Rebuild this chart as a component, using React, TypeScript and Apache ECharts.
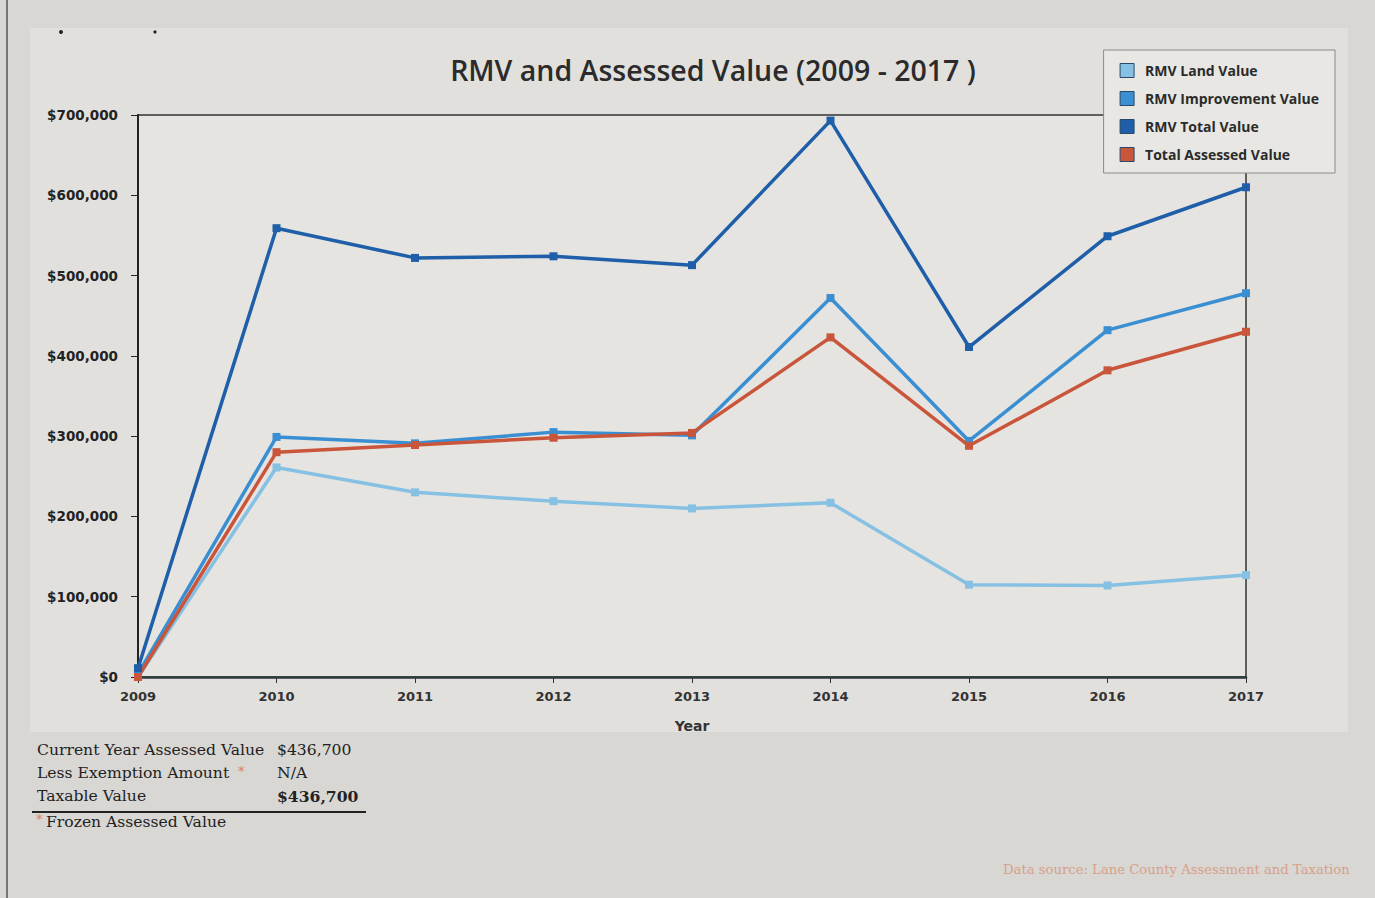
import React, { useEffect, useRef } from "react";
import * as echarts from "echarts";

const years = ["2009", "2010", "2011", "2012", "2013", "2014", "2015", "2016", "2017"];
const landValue = [0, 261000, 230000, 219000, 210000, 217000, 115000, 114000, 127000];
const improvementValue = [4000, 299000, 291000, 305000, 301000, 472000, 294000, 432000, 478000];
const totalValue = [11000, 559000, 522000, 524000, 513000, 693000, 411000, 549000, 610000];
const assessedValue = [0, 280000, 289000, 298000, 304000, 423000, 288000, 382000, 430000];
const seriesNames = ["RMV Land Value", "RMV Improvement Value", "RMV Total Value", "Total Assessed Value"];
const seriesColors = ["#86c1e4", "#3a8fd2", "#1f5ea8", "#c9553a"];
const tableRows = [
  ["Current Year Assessed Value", "$436,700"],
  ["Less Exemption Amount", "N/A"],
  ["Taxable Value", "$436,700"],
];

export default function App() {
  const ref = useRef<HTMLDivElement>(null);
  useEffect(() => {
    document.body.style.margin = "0";
    const chart = echarts.init(ref.current!, null, { renderer: "svg" });
    const data = [landValue, improvementValue, totalValue, assessedValue];
    const serif = "'DejaVu Serif', 'Liberation Serif', serif";
    const graphic: any[] = [
      { type: "rect", z: -10, shape: { x: 30, y: 28, width: 1318, height: 704 }, style: { fill: "#e2e0dc" } },
      { type: "line", shape: { x1: 7, y1: 0, x2: 7, y2: 898 }, style: { stroke: "#555", lineWidth: 1.5 } },
      { type: "circle", shape: { cx: 61, cy: 32, r: 2 }, style: { fill: "#222" } },
      { type: "circle", shape: { cx: 155, cy: 32, r: 1.6 }, style: { fill: "#222" } },
    ];
    tableRows.forEach((r, i) => {
      graphic.push({ type: "text", left: 37, top: 742 + i * 23, style: { text: r[0], font: `15.6px ${serif}`, fill: "#222" } });
      graphic.push({ type: "text", left: 277, top: 742 + i * 23, style: { text: r[1], font: `${i === 2 ? "bold " : ""}15.6px ${serif}`, fill: "#222" } });
    });
    graphic.push({ type: "text", left: 238, top: 765, style: { text: "*", font: `13px ${serif}`, fill: "#e07a6a" } });
    graphic.push({ type: "line", shape: { x1: 32, y1: 812, x2: 366, y2: 812 }, style: { stroke: "#222", lineWidth: 2 } });
    graphic.push({ type: "text", left: 36, top: 813, style: { text: "*", font: `13px ${serif}`, fill: "#e07a6a" } });
    graphic.push({ type: "text", left: 46, top: 814, style: { text: "Frozen Assessed Value", font: `15.6px ${serif}`, fill: "#222" } });
    graphic.push({ type: "text", left: 1003, top: 863, style: { text: "Data source: Lane County Assessment and Taxation", font: `13.2px ${serif}`, fill: "#d6a08a" } });

    chart.setOption({
      animation: false,
      backgroundColor: "#d9d7d3",
      title: {
        text: "RMV and Assessed Value (2009 - 2017 )",
        left: 708,
        textAlign: "center",
        top: 50,
        textStyle: { fontFamily: "'Open Sans', sans-serif", fontSize: 28.5, fontWeight: 600, color: "#2b2b2b" },
      },
      legend: {
        orient: "vertical",
        right: 40,
        top: 50,
        width: 238,
        padding: [13, 16, 11, 16],
        itemGap: 13,
        backgroundColor: "#e8e7e4",
        borderColor: "#8a8a8a",
        borderWidth: 1,
        itemWidth: 14,
        itemHeight: 14,
        icon: "rect",
        data: seriesNames.map((n, i) => ({
          name: n,
          itemStyle: { color: seriesColors[i], borderColor: "#2a4a6a", borderWidth: 1 },
        })),
        textStyle: { fontFamily: "'Open Sans', sans-serif", fontSize: 14, fontWeight: "bold", color: "#2b2b2b", padding: [0, 0, 0, 6], lineHeight: 15 },
      },
      grid: {
        left: 138,
        right: 129,
        top: 115,
        bottom: 221,
        show: true,
        backgroundColor: "#e5e4e1",
        borderColor: "#333",
        borderWidth: 1.5,
      },
      xAxis: {
        type: "category",
        data: years,
        boundaryGap: false,
        name: "Year",
        nameLocation: "middle",
        nameGap: 42,
        nameTextStyle: { fontFamily: "'DejaVu Sans', sans-serif", fontSize: 14, fontWeight: "bold", color: "#333" },
        axisLine: { lineStyle: { color: "#2b3a3a", width: 2.5 } },
        axisTick: { show: true, inside: false, length: 6, lineStyle: { color: "#333" } },
        axisLabel: { fontFamily: "'DejaVu Sans', sans-serif", fontSize: 13, fontWeight: "bold", color: "#333", margin: 13 },
        splitLine: { show: false },
      },
      yAxis: {
        type: "value",
        min: 0,
        max: 700000,
        interval: 100000,
        axisLine: { show: true, lineStyle: { color: "#222", width: 2 } },
        axisTick: { show: true, length: 7, lineStyle: { color: "#222" } },
        axisLabel: {
          fontFamily: "'DejaVu Sans', sans-serif",
          fontSize: 13.5,
          fontWeight: "bold",
          color: "#222",
          margin: 20,
          formatter: (v: number) => "$" + v.toLocaleString("en-US"),
        },
        splitLine: { show: false },
      },
      series: seriesNames.map((n, i) => ({
        name: n,
        type: "line",
        data: data[i],
        symbol: "rect",
        symbolSize: 8,
        z: i === 2 ? 5 : i === 0 ? 2 : 3,
        lineStyle: { color: seriesColors[i], width: 3.5 },
        itemStyle: { color: seriesColors[i] },
      })),
      graphic,
    });
    return () => chart.dispose();
  }, []);
  return <div ref={ref} style={{ width: 1375, height: 898 }} />;
}
